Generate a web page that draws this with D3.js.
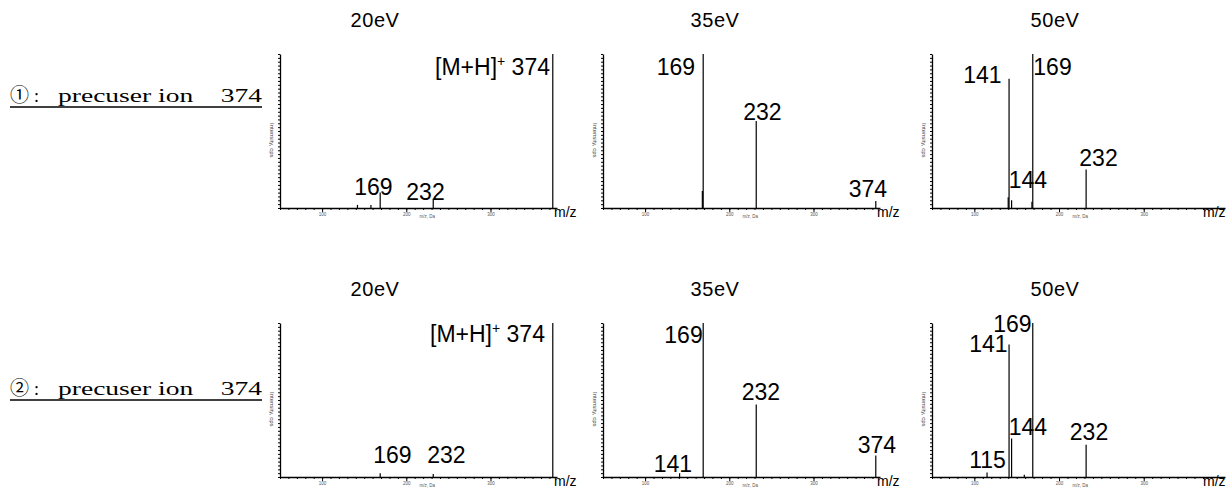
<!DOCTYPE html>
<html>
<head>
<meta charset="utf-8">
<script src="https://cdn.jsdelivr.net/npm/d3@7"></script>
<style>
  body { margin: 0; background: #fff; }
  svg { display: block; }
</style>
</head>
<body>
<script>
// ---- data ----
const columnTitles = ['20eV', '35eV', '50eV']
const rowMarks = ['\u2460', '\u2461']
const rowLabels = ['precuser ion\u3000374', 'precuser ion\u3000374']
const xTickValues = [100, 200, 300]

// peaks: [m/z, relative intensity %]
const peaks1_20 = [[142, 2], [158, 2], [169, 10], [232, 6], [374, 100]]
const peaks1_35 = [[168, 11], [169, 100], [232, 56.5], [374, 4.5]]
const peaks1_50 = [[140, 7], [141, 84], [144, 5], [168, 4], [169, 100], [232, 25]]
const peaks2_20 = [[169, 2.5], [232, 2], [374, 100]]
const peaks2_35 = [[141, 2.5], [169, 100], [232, 47], [374, 14]]
const peaks2_50 = [[115, 3], [141, 86], [144, 25], [159, 1.5], [169, 100], [232, 21]]

// annotations: [text, m/z anchor, intensity % (baseline), text-anchor]
const labels1_20 = [['[M+H]+ 374', 370.7, 86.4, 'end'], ['169', 161, 8.4, 'middle'], ['232', 222.8, 5.2, 'middle']]
const labels1_35 = [['169', 159.3, 86.4, 'end'], ['232', 239.4, 57.1, 'middle'], ['374', 364.7, 7.1, 'middle']]
const labels1_50 = [['141', 109.6, 81.2, 'middle'], ['169', 192.3, 86.4, 'middle'], ['144', 163.3, 13, 'middle'], ['232', 246.6, 27.3, 'middle']]
const labels2_20 = [['[M+H]+ 374', 364.7, 87.7, 'end'], ['169', 183.6, 9.1, 'middle'], ['232', 247.7, 9.1, 'middle']]
const labels2_35 = [['169', 145.6, 87, 'middle'], ['232', 237.6, 50, 'middle'], ['374', 375.4, 15.6, 'middle'], ['141', 133.1, 3.2, 'middle']]
const labels2_50 = [['169', 145, 94.2, 'middle'], ['141', 116.7, 81.2, 'middle'], ['144', 163.3, 27.3, 'middle'], ['232', 235.4, 24, 'middle'], ['115', 115.5, 5.8, 'middle']]

const panels = [
  { row: 0, col: 0, peaks: peaks1_20, labels: labels1_20 },
  { row: 0, col: 1, peaks: peaks1_35, labels: labels1_35 },
  { row: 0, col: 2, peaks: peaks1_50, labels: labels1_50 },
  { row: 1, col: 0, peaks: peaks2_20, labels: labels2_20 },
  { row: 1, col: 1, peaks: peaks2_35, labels: labels2_35 },
  { row: 1, col: 2, peaks: peaks2_50, labels: labels2_50 },
]

// ---- layout ----
const width = 1232
const height = 489
const colX = [280, 603, 932]
const colW = [277, 277, 293]
const colDomain = [[50, 379], [50, 379], [50, 396]]
const colTitleX = [375, 715, 1055]
const mzLabelX = [554, 877, 1203]
const rowTop = [54, 323]
const plotH = 154
const rowLabelY = [102, 395]

const SANS = '"Liberation Sans", Arial, sans-serif'
const SERIF = '"Liberation Serif", serif'

const svg = d3.select('body')
  .append('svg')
  .attr('width', width)
  .attr('height', height)

// column titles
rowTop.forEach(top => {
  svg.append('g')
    .selectAll('text')
    .data(columnTitles)
    .join('text')
    .attr('x', (d, i) => colTitleX[i])
    .attr('y', top - 27)
    .attr('text-anchor', 'middle')
    .attr('font-family', SANS)
    .attr('font-size', 20)
    .attr('letter-spacing', 0.6)
    .text(d => d)
})

// row labels (underlined)
rowLabels.forEach((label, i) => {
  const yl = rowLabelY[i]
  svg.append('text')
    .attr('x', 10)
    .attr('y', yl)
    .attr('font-family', '"Noto Sans CJK JP", sans-serif')
    .attr('font-size', 19)
    .text(rowMarks[i])
  svg.append('text')
    .attr('x', 34)
    .attr('y', yl)
    .attr('font-family', SERIF)
    .attr('font-size', 18)
    .text(':')
  svg.append('text')
    .attr('x', 58)
    .attr('y', yl)
    .attr('font-family', SERIF)
    .attr('font-size', 18)
    .attr('textLength', 204)
    .attr('lengthAdjust', 'spacingAndGlyphs')
    .text(label)
  svg.append('line')
    .attr('x1', 10)
    .attr('x2', 262)
    .attr('y1', yl + 5)
    .attr('y2', yl + 5)
    .attr('stroke', '#000')
    .attr('stroke-width', 1.5)
})

function renderSpectrum(p) {
  const x0 = colX[p.col]
  const [d0, d1] = colDomain[p.col]
  const yb = rowTop[p.row] + plotH

  const x = d3.scaleLinear().domain([d0, d1]).range([x0, x0 + colW[p.col]])
  const y = d3.scaleLinear().domain([0, 100]).range([yb, yb - plotH])

  const g = svg.append('g')

  // x axis: minor ticks
  g.append('g')
    .attr('transform', `translate(0,${yb})`)
    .call(d3.axisBottom(x)
      .tickValues(d3.range(Math.ceil(d0 / 10) * 10, d1, 10))
      .tickSize(2)
      .tickSizeOuter(0)
      .tickFormat(''))
    .call(a => a.selectAll('line').attr('stroke', '#000'))
    .call(a => a.select('.domain').attr('stroke', '#000').attr('stroke-width', 1.3))

  // x axis: major ticks + labels
  g.append('g')
    .attr('transform', `translate(0,${yb})`)
    .call(d3.axisBottom(x)
      .tickValues(xTickValues)
      .tickSize(4)
      .tickSizeOuter(0)
      .tickPadding(1))
    .call(a => a.select('.domain').remove())
    .call(a => a.selectAll('line').attr('stroke', '#000'))
    .call(a => a.selectAll('text')
      .attr('font-family', SANS)
      .attr('font-size', 4.5)
      .attr('fill', '#555'))

  g.append('text')
    .attr('x', x(225))
    .attr('y', yb + 10)
    .attr('text-anchor', 'middle')
    .attr('font-family', SANS)
    .attr('font-size', 4.5)
    .attr('fill', '#555')
    .text('m/z, Da')

  // y axis with dense ticks
  g.append('g')
    .attr('transform', `translate(${x0},0)`)
    .call(d3.axisLeft(y)
      .tickValues(d3.range(0, 100.1, 2.5))
      .tickSize(2)
      .tickSizeOuter(0)
      .tickFormat(''))
    .call(a => a.selectAll('line').attr('stroke', '#000'))
    .call(a => a.select('.domain').attr('stroke', '#000').attr('stroke-width', 1.3))

  g.append('text')
    .attr('transform', `translate(${x0 - 10},${yb - plotH * 0.44}) rotate(90)`)
    .attr('text-anchor', 'middle')
    .attr('font-family', SANS)
    .attr('font-size', 6)
    .attr('fill', '#444')
    .text('Intensity, cps')

  // peaks
  g.append('g')
    .selectAll('line')
    .data(p.peaks)
    .join('line')
    .attr('x1', d => x(d[0]))
    .attr('x2', d => x(d[0]))
    .attr('y1', y(0))
    .attr('y2', d => y(d[1]))
    .attr('stroke', '#000')
    .attr('stroke-width', 1.2)

  // peak annotations
  g.append('g')
    .selectAll('text')
    .data(p.labels)
    .join('text')
    .attr('x', d => x(d[1]))
    .attr('y', d => y(d[2]))
    .attr('text-anchor', d => d[3])
    .attr('font-family', SANS)
    .attr('font-size', 23)
    .each(function (d) {
      const t = d3.select(this)
      if (d[0].startsWith('[M+H]+')) {
        t.append('tspan').text('[M+H]')
        t.append('tspan').attr('dy', -9).attr('font-size', 14).text('+')
        t.append('tspan').attr('dy', 9).text(d[0].slice(6))
      } else {
        t.text(d[0])
      }
    })

  // m/z label at axis end
  g.append('text')
    .attr('x', mzLabelX[p.col])
    .attr('y', yb + 9)
    .attr('font-family', SANS)
    .attr('font-size', 14)
    .text('m/z')
}

panels.forEach(renderSpectrum)
</script>
</body>
</html>
